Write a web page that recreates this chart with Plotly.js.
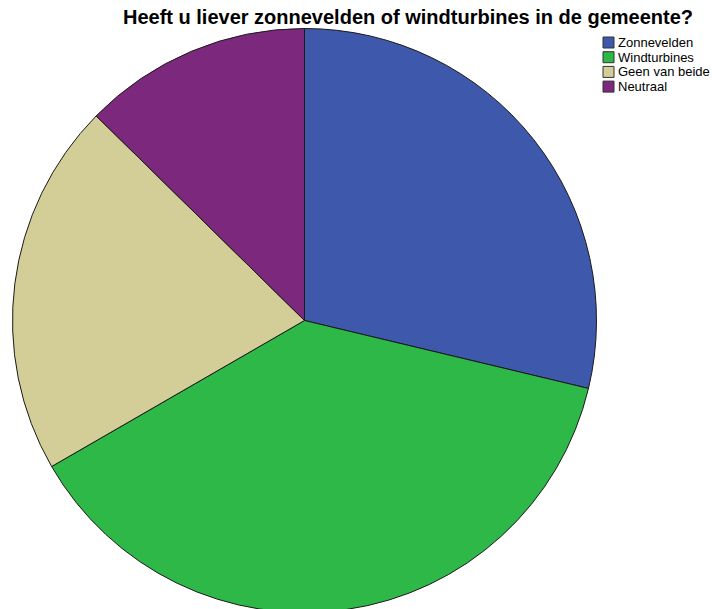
<!DOCTYPE html>
<html>
<head>
<meta charset="utf-8">
<script src="https://cdn.plot.ly/plotly-3.0.1.min.js"></script>
<style>
html,body{margin:0;padding:0;overflow:hidden;background:#fff;}
#chart{width:718px;height:620px;}
</style>
</head>
<body>
<div id="chart"></div>
<script>
const categories = ["Zonnevelden", "Windturbines", "Geen van beide", "Neutraal"];
const counts = [25, 33, 18, 11];
const colors = ["#3E58AC", "#2EB848", "#D3CE97", "#7C287D"];
const titleText = "Heeft u liever zonnevelden of windturbines in de gemeente?";

const W = 718, H = 620;
const cx = 304.5, cy = 320.5, R = 292;

const trace = {
  type: "pie",
  labels: categories,
  values: counts,
  sort: false,
  direction: "clockwise",
  rotation: 0,
  textinfo: "none",
  hoverinfo: "none",
  showlegend: false,
  marker: { colors: colors, line: { color: "#1a1a1a", width: 1 } },
  domain: { x: [(cx - R) / W, (cx + R) / W], y: [1 - (cy + R) / H, 1 - (cy - R) / H] }
};

// custom compact legend built from the category arrays
const shapes = [], annotations = [];
const lx = 603, ly0 = 37, step = 14.7, sq = 11;
categories.forEach((c, i) => {
  const y = ly0 + i * step;
  shapes.push({
    type: "rect", xref: "paper", yref: "paper",
    x0: lx / W, x1: (lx + sq) / W, y0: 1 - (y + sq) / H, y1: 1 - y / H,
    fillcolor: colors[i], line: { color: "#333", width: 1 }
  });
  annotations.push({
    xref: "paper", yref: "paper", x: (lx + sq + 2) / W, y: 1 - (y + sq / 2) / H,
    xanchor: "left", yanchor: "middle", showarrow: false, text: c,
    font: { family: "Liberation Sans, Arial, sans-serif", size: 13, color: "#000" }
  });
});

const layout = {
  width: W, height: H,
  margin: { l: 0, r: 0, t: 0, b: 0 },
  paper_bgcolor: "#fff",
  title: {
    text: "<b>" + titleText + "</b>",
    x: 408 / W, xanchor: "center", xref: "paper",
    y: 1 - 17 / H, yanchor: "middle", yref: "container",
    font: { family: "Liberation Sans, Arial, sans-serif", size: 20, color: "#000" }
  },
  shapes: shapes,
  annotations: annotations
};

Plotly.newPlot("chart", [trace], layout, { displayModeBar: false, staticPlot: true });
</script>
</body>
</html>
